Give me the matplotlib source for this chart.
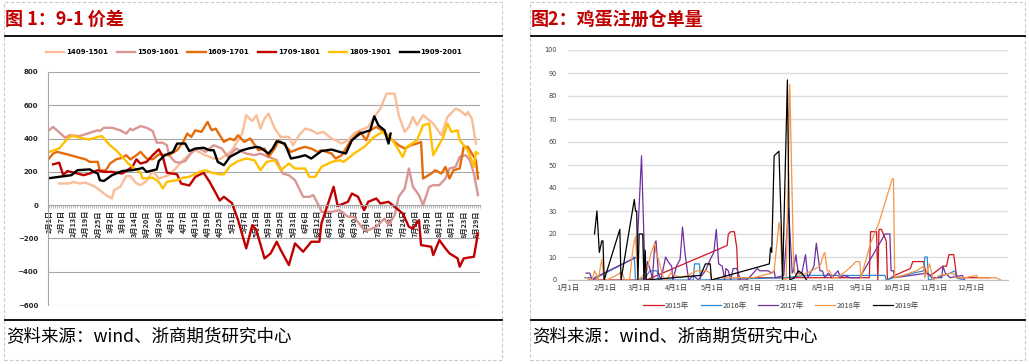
import matplotlib
matplotlib.use('agg')
import numpy as np
import pandas as pd
import matplotlib.pyplot as plt
from matplotlib.lines import Line2D
from matplotlib.patches import Rectangle

plt.rcParams['font.family'] = ['Noto Sans CJK SC', 'DejaVu Sans']

# ---- figure 1: 9-1 spread, x = days since Feb 1 ----
names_spread = ['1409-1501', '1509-1601', '1609-1701', '1709-1801', '1809-1901', '1909-2001']
colors_spread = ['#F9BE97', '#D99694', '#E46C0A', '#C00000', '#FFC000', '#000000']

d1409 = [5, 10, 12, 15, 18, 22, 25, 28, 31, 32, 35, 38, 40, 43, 45, 48, 51, 54, 58, 60, 63, 66, 69, 72, 76,
         81, 84, 87, 90, 92, 95, 97, 100, 102, 104, 106, 108, 111, 114, 118, 120, 123, 126, 129, 132,
         135, 139, 141, 144, 147, 150, 153, 157, 160, 163, 166, 170, 172, 175, 177, 179, 181, 184, 187, 189,
         193, 196, 200, 202, 205, 206, 208, 210]
v1409 = [130, 130, 140, 130, 135, 115, 90, 60, 40, 90, 110, 175, 175, 130, 120, 145, 205, 160, 175, 190, 230, 270, 305, 330, 305,
         280, 275, 300, 330, 370, 430, 540, 505, 540, 460, 520, 550, 460, 410, 410, 360, 420, 460, 450, 430,
         440, 400, 390, 370, 390, 430, 450, 470, 530, 580, 670, 670, 540, 440, 470, 530, 480, 540, 510, 490,
         420, 530, 580, 570, 540, 560, 520, 370]

d1509 = [0, 2, 8, 10, 15, 24, 25, 27, 31, 35, 38, 40, 41, 45, 48, 51, 53, 56, 58, 59, 62, 64, 67, 71, 74,
         77, 81, 85, 88, 92, 97, 101, 104, 108, 112, 115, 118, 121, 125, 128, 130, 133, 134, 139, 143,
         147, 150, 155, 157, 161, 165, 167, 170, 172, 175, 177, 179, 182, 184, 187, 189, 192, 195, 197, 200,
         202, 205, 207, 209, 211]
v1509 = [450, 470, 405, 420, 415, 450, 445, 465, 465, 450, 430, 460, 450, 475, 465, 445, 375, 375, 360, 300, 260, 255, 265, 330, 340,
         320, 360, 340, 290, 340, 310, 300, 310, 290, 270, 190, 180, 150, 50, 50, 60, -10, -40, -40, -30,
         -70, -70, -150, -150, -130, -80, -120, -60, 50, 100, 220, 110, 60, 0, 110, 120, 120, 160, 220, 230,
         290, 300, 270, 190, 60]

d1609 = [0, 2, 4, 9, 15, 18, 20, 24, 25, 28, 30, 33, 36, 38, 40, 43, 45, 48, 51, 54, 59, 63, 66, 68, 70,
         72, 75, 78, 80, 82, 86, 89, 91, 93, 96, 99, 103, 106, 108, 111, 113, 116, 119, 123, 126,
         129, 132, 134, 139, 141, 144, 148, 151, 153, 156, 158, 161, 165, 169, 172, 175, 178, 181, 183, 184,
         188, 190, 193, 195, 197, 199, 202, 204, 206, 208, 210, 211]
v1609 = [280, 310, 320, 305, 285, 275, 260, 260, 205, 210, 250, 275, 285, 300, 275, 300, 320, 280, 275, 305, 300, 330, 380, 430, 410,
         450, 440, 500, 450, 460, 380, 400, 390, 420, 380, 400, 330, 340, 290, 340, 390, 360, 320, 340, 350,
         340, 320, 330, 310, 280, 300, 380, 420, 440, 390, 450, 470, 440, 390, 360, 340, 360, 370, 380, 160,
         190, 210, 190, 230, 160, 210, 220, 350, 350, 310, 270, 160]

d1709 = [2, 5, 7, 9, 14, 17, 20, 24, 27, 31, 36, 41, 43, 45, 48, 51, 54, 56, 58, 63, 65, 69, 72, 76, 79,
         84, 86, 90, 93, 97, 100, 102, 106, 109, 112, 114, 118, 121, 125, 129, 133, 134, 140, 142, 147,
         149, 152, 155, 157, 161, 163, 167, 170, 174, 177, 179, 182, 183, 188, 189, 192, 195, 197, 201, 202,
         204, 209, 211]
v1709 = [245, 255, 180, 205, 190, 180, 190, 210, 200, 200, 190, 230, 275, 250, 260, 300, 335, 290, 195, 185, 130, 118, 170, 195, 140,
         28, 50, 12, -90, -260, -120, -150, -320, -290, -220, -270, -360, -230, -280, -220, -220, -110, 110, -5, 20,
         70, 50, -30, 20, 40, 10, 20, -10, -50, -130, -140, -90, -240, -250, -300, -210, -260, -290, -320, -370,
         -320, -310, -170]

d1809 = [0, 5, 7, 10, 12, 17, 20, 24, 26, 30, 33, 36, 39, 41, 45, 46, 51, 54, 56, 58, 63, 66, 69, 74, 77,
         80, 84, 86, 89, 93, 97, 101, 104, 107, 111, 114, 118, 121, 126, 128, 131, 134, 139, 143, 145,
         150, 155, 160, 164, 169, 174, 176, 181, 184, 187, 189, 194, 196, 198, 201, 202, 206, 209, 210, 211]
v1809 = [320, 340, 370, 410, 415, 400, 395, 410, 415, 360, 330, 290, 250, 230, 195, 160, 165, 140, 100, 140, 150, 165, 170, 200, 210,
         195, 185, 185, 235, 265, 280, 270, 210, 260, 270, 210, 250, 220, 220, 170, 170, 230, 260, 270, 260,
         310, 350, 410, 440, 390, 290, 350, 390, 480, 490, 300, 410, 490, 440, 450, 390, 330, 230, 320, 310]

d1909 = [0, 11, 14, 20, 22, 24, 25, 27, 31, 36, 41, 45, 46, 48, 53, 54, 57, 61, 63, 67, 69, 72, 76, 79, 81,
         83, 86, 89, 92, 95, 98, 102, 104, 108, 110, 112, 116, 119, 123, 126, 129, 134, 139, 143, 146,
         149, 153, 158, 160, 162, 165, 167, 168]
v1909 = [162, 180, 210, 215, 200, 190, 150, 145, 180, 205, 210, 220, 225, 200, 215, 265, 300, 320, 370, 370, 325, 340, 345, 330, 330,
         260, 240, 290, 310, 330, 340, 350, 345, 310, 340, 384, 370, 280, 290, 300, 280, 325, 334, 320, 310,
         390, 430, 450, 534, 480, 450, 370, 430]

# ---- figure 2: registered warehouse receipts, x = day of year ----
names_wr = ['2015年', '2016年', '2017年', '2018年', '2019年']
colors_wr = ['#D0161E', '#2E8BCF', '#7030A0', '#F79646', '#000000']

d2015 = [17, 65, 132, 133, 135, 138, 140, 141, 145, 250, 251, 256, 257, 258, 260, 264, 265, 271, 284, 286, 295,
         297, 301, 311, 314, 316, 320, 322, 323, 350]
v2015 = [0, 0, 15, 20, 21, 21, 14, 0, 1, 1, 21, 21, 0, 22, 22, 17, 0, 2, 5, 8, 8,
         3, 2, 6, 6, 11, 11, 3, 1, 1]

d2016 = [14, 19, 20, 53, 55, 56, 64, 68, 74, 75, 104, 105, 109, 110, 180, 198, 263, 264, 270, 295,
         296, 298, 299, 306, 317, 321, 322, 328]
v2016 = [1, 1, 0, 9, 10, 0, 1, 4, 4, 0, 0, 7, 7, 0, 1, 2, 2, 0, 1, 4,
         10, 10, 0, 1, 3, 4, 1, 0]

d2017 = [15, 18, 20, 21, 22, 57, 61, 64, 66, 69, 70, 72, 73, 75, 77, 81, 83, 86, 87, 90, 93, 95, 97, 100,
         104, 108, 114, 118, 121, 123, 125, 128, 130, 131, 133, 135, 137, 140, 143, 148, 152, 157, 159, 163,
         166, 169, 171, 172, 179, 183, 186, 187, 189, 191, 194, 197, 199, 204, 206, 209, 211, 213, 216, 219,
         224, 226, 229, 234, 242, 263, 267, 268, 270, 271, 298, 302, 310, 311, 313, 317, 327, 329]
v2017 = [3, 3, 0, 0, 1, 10, 54, 0, 8, 3, 0, 16, 17, 3, 0, 10, 8, 6, 0, 6, 9, 23, 12, 0,
         2, 0, 4, 9, 12, 22, 7, 6, 0, 5, 4, 0, 5, 5, 0, 0, 2, 5, 4, 4,
         4, 3, 4, 1, 2, 31, 3, 4, 11, 3, 3, 11, 1, 6, 16, 4, 4, 1, 3, 1,
         4, 1, 2, 1, 1, 20, 20, 4, 4, 1, 3, 1, 1, 6, 3, 1, 2, 0]

d2018 = [15, 20, 22, 23, 25, 28, 30, 32, 36, 40, 43, 45, 47, 51, 54, 56, 58, 65, 69, 72, 73, 75, 79, 82, 85,
         93, 99, 107, 115, 118, 119, 126, 137, 154, 169, 171, 175, 176, 178, 181, 184, 187, 188, 191, 198,
         202, 209, 212, 213, 215, 217, 220, 223, 231, 239, 242, 243, 251, 258, 269, 270, 271, 278, 289, 295,
         296, 300, 303, 308, 319, 322, 329, 339, 340, 355, 359]
v2018 = [1, 0, 4, 3, 0, 9, 0, 0, 1, 2, 3, 3, 0, 0, 14, 19, 0, 3, 12, 16, 12, 9, 1, 0, 3,
         1, 2, 4, 4, 3, 0, 1, 1, 1, 3, 4, 25, 22, 1, 0, 85, 10, 3, 2, 3,
         4, 6, 11, 12, 4, 4, 1, 1, 4, 8, 8, 1, 16, 25, 44, 44, 1, 2, 4, 6,
         1, 7, 0, 2, 3, 1, 1, 2, 1, 1, 0]

d2019 = [22, 24, 26, 28, 29, 30, 43, 44, 55, 56, 57, 58, 59, 62, 63, 64, 65, 110, 114, 118, 119, 167, 168, 169, 171,
         175, 177, 178, 182, 184, 188, 191, 194, 198]
v2019 = [20, 30, 12, 17, 17, 0, 22, 0, 35, 30, 30, 0, 20, 20, 0, 13, 0, 2, 7, 7, 0, 7, 14, 12, 54,
         56, 22, 0, 87, 0, 1, 4, 3, 0]

W, H = 1029, 364


def fx(x):
    return x / W


def fy(y):
    return 1 - y / H


fig = plt.figure(figsize=(W / 100, H / 100), dpi=100)

# page frame: dashed cell borders, black rules, titles and sources
for x0, x1 in [(4, 502), (530, 1025)]:
    fig.add_artist(Rectangle((fx(x0), fy(360)), fx(x1 - x0), (360 - 2) / H, transform=fig.transFigure,
                             fill=False, ec='#C8C8C8', lw=0.8, ls=(0, (3, 2))))
    for yy in (36, 320):
        fig.add_artist(Line2D([fx(x0 + 1), fx(x1)], [fy(yy), fy(yy)], transform=fig.transFigure,
                              color='black', lw=1.3))
    fig.text(fx(x0 + 2), fy(336), '资料来源：wind、浙商期货研究中心', fontsize=12.6, color='black',
             va='center', ha='left')

fig.text(fx(5), fy(19), '图 1：9-1 价差', fontsize=13, fontweight='bold', color='#C00000',
         va='center', ha='left')
fig.text(fx(531), fy(19), '图2：鸡蛋注册仓单量', fontsize=13, fontweight='bold', color='#C00000',
         va='center', ha='left')

# ---- left chart ----
ax1 = fig.add_axes([fx(48), fy(305), fx(432), 233 / H])
spread = [(d1409, v1409), (d1509, v1509), (d1609, v1609), (d1709, v1709), (d1809, v1809), (d1909, v1909)]
for (dd, vv), name, c in zip(spread, names_spread, colors_spread):
    ax1.plot(dd, vv, color=c, lw=1.7, label=name, solid_joinstyle='round')

ax1.set_xlim(-0.5, 211.5)
ax1.set_ylim(-600, 800)
ax1.set_yticks(np.arange(-600, 801, 200))
ax1.grid(axis='y', color='#A6A6A6', lw=0.8)
ax1.set_axisbelow(True)
for s in ('top', 'right'):
    ax1.spines[s].set_visible(False)
ax1.spines['left'].set_color('#A6A6A6')
ax1.spines['bottom'].set_position(('data', 0))
ax1.spines['bottom'].set_color('#A6A6A6')

days = pd.date_range('2020-02-01', '2020-08-31')
xlabels = [f'{d.month}月{d.day}日' if i % 6 == 0 else '' for i, d in enumerate(days)]
ax1.set_xticks(np.arange(len(days)))
ax1.set_xticklabels(xlabels, rotation=90, fontsize=5.2, fontweight='bold', color='#262626')
ax1.tick_params(axis='x', length=2.5, width=0.4, color='#808080', pad=1)
ax1.tick_params(axis='y', length=0, pad=7, labelsize=5, labelcolor='#262626')
for t in ax1.get_yticklabels():
    t.set_fontfamily('DejaVu Sans')
    t.set_fontweight('bold')

fig.legend(*ax1.get_legend_handles_labels(), loc='center', bbox_to_anchor=(fx(254), fy(52)), ncol=6,
           frameon=False, prop={'family': 'DejaVu Sans', 'weight': 'bold', 'size': 5},
           handlelength=2.6, handletextpad=0.3, columnspacing=1.3)

# ---- right chart ----
ax2 = fig.add_axes([fx(568), fy(280), fx(440), 230 / H])
receipts = [(d2015, v2015), (d2016, v2016), (d2017, v2017), (d2018, v2018), (d2019, v2019)]
for (dd, vv), name, c in zip(receipts, names_wr, colors_wr):
    ax2.plot(dd, vv, color=c, lw=0.9, label=name)

ax2.set_xlim(0, 365)
ax2.set_ylim(0, 100)
ax2.set_yticks(np.arange(0, 101, 10))
ax2.grid(axis='y', color='#DEDEDE', lw=1.0)
ax2.set_axisbelow(True)
for s in ('top', 'right', 'left'):
    ax2.spines[s].set_visible(False)
ax2.spines['bottom'].set_color('#BFBFBF')

months = pd.date_range('2019-01-01', '2019-12-01', freq='MS')
ax2.set_xticks(months.dayofyear - 1)
ax2.set_xticklabels([f'{m.month}月1日' for m in months], fontsize=5.4, color='#404040')
ax2.tick_params(axis='x', length=0, pad=3)
ax2.tick_params(axis='y', length=0, pad=8, labelsize=4.8, labelcolor='#404040')
for t in ax2.get_yticklabels():
    t.set_fontfamily('DejaVu Sans')

fig.legend(*ax2.get_legend_handles_labels(), loc='center', bbox_to_anchor=(fx(781), fy(306)), ncol=5,
           frameon=False, prop={'size': 5.4}, labelcolor='#404040',
           handlelength=2.7, handletextpad=0.2, columnspacing=1.5)

fig.savefig('out.png', dpi=100)
